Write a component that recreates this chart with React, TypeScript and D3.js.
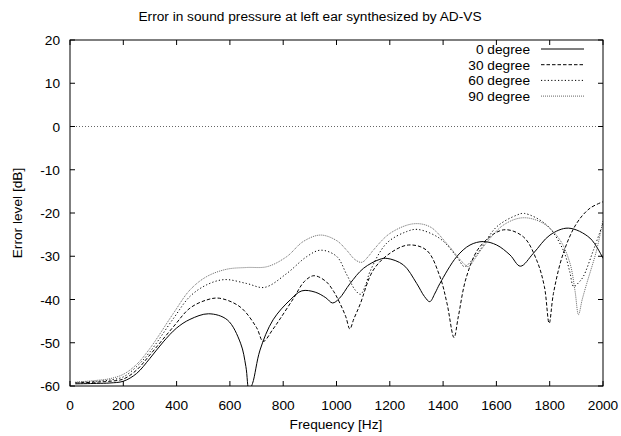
import React from "react";
import * as d3 from "d3";

const xTicks = [0, 200, 400, 600, 800, 1000, 1200, 1400, 1600, 1800, 2000];
const yTicks = [-60, -50, -40, -30, -20, -10, 0, 10, 20];

const deg0Freq = [20, 100, 150, 200, 250, 300, 350, 400, 450, 520, 590, 640, 660, 672, 685, 713, 762, 826, 870, 920, 960, 985, 1010, 1051, 1101, 1163, 1190, 1251, 1301, 1330, 1350, 1370, 1388, 1451, 1501, 1551, 1601, 1651, 1690, 1739, 1801, 1870, 1951, 2000];
const deg0Db = [-59.5, -59.4, -59.3, -58.9, -57.1, -53.6, -49.8, -46.6, -44.6, -43.3, -44.7, -50.1, -55.5, -61, -59.4, -51.7, -44.7, -40.1, -38.0, -38.3, -39.6, -40.8, -39.8, -36.3, -32.8, -30.7, -30.5, -32.0, -36.3, -39.3, -40.5, -38.5, -36.3, -30.1, -27.4, -26.6, -27.4, -29.7, -32.3, -29.3, -25.1, -23.5, -25.8, -30.5];

const deg30Freq = [20, 100, 150, 200, 250, 300, 388, 450, 513, 560, 638, 700, 725, 760, 788, 838, 880, 915, 960, 990, 1013, 1035, 1050, 1065, 1088, 1138, 1201, 1270, 1338, 1388, 1415, 1441, 1457, 1488, 1538, 1626, 1701, 1751, 1780, 1798, 1814, 1851, 1901, 1951, 2000];
const deg30Db = [-59.3, -59.1, -58.9, -58.4, -56.3, -52.8, -46.3, -42.0, -40.1, -39.7, -41.7, -46.5, -49.7, -47.0, -44.5, -39.8, -35.8, -34.5, -35.8, -38.2, -40.9, -44.0, -46.8, -44.5, -41.2, -33.2, -29.3, -27.4, -28.6, -34.7, -41.0, -48.8, -44.0, -34.7, -27.8, -23.9, -25.5, -30.9, -37.0, -45.5, -38.6, -29.3, -22.4, -18.9, -17.4];

const deg60Freq = [20, 100, 150, 200, 250, 300, 388, 450, 513, 580, 663, 730, 813, 888, 940, 1000, 1038, 1070, 1090, 1110, 1126, 1188, 1263, 1305, 1388, 1451, 1480, 1500, 1538, 1601, 1676, 1705, 1789, 1851, 1875, 1890, 1910, 1926, 1964, 2000];
const deg60Db = [-59.2, -58.9, -58.6, -57.9, -55.5, -52.1, -44.4, -39.3, -36.6, -35.4, -36.3, -37.2, -34.0, -30.1, -28.6, -30.0, -34.2, -37.8, -38.8, -36.5, -33.5, -27.0, -24.3, -23.8, -25.9, -30.1, -32.4, -31.5, -28.6, -23.2, -20.5, -20.1, -22.8, -28.6, -33.5, -37.0, -36.0, -34.7, -28.6, -22.4];

const deg90Freq = [20, 100, 150, 200, 250, 300, 388, 450, 513, 588, 663, 740, 813, 875, 940, 1001, 1038, 1070, 1095, 1120, 1138, 1201, 1288, 1351, 1413, 1476, 1495, 1520, 1551, 1626, 1700, 1776, 1838, 1876, 1895, 1908, 1922, 1939, 1976, 2000];
const deg90Db = [-59.1, -58.7, -58.3, -57.3, -55.0, -51.3, -43.2, -37.8, -34.7, -33.0, -32.6, -32.4, -30.1, -26.6, -25.1, -26.4, -28.6, -30.8, -31.4, -30.0, -28.6, -24.7, -22.5, -23.2, -27.0, -31.6, -32.4, -30.5, -27.8, -22.8, -21.1, -22.4, -26.2, -31.6, -38.0, -43.5, -40.0, -36.3, -28.6, -21.6];

const seriesNames = ["0 degree", "30 degree", "60 degree", "90 degree"];
const seriesFreqs = [deg0Freq, deg30Freq, deg60Freq, deg90Freq];
const seriesDbs = [deg0Db, deg30Db, deg60Db, deg90Db];
const seriesColors = ["#000", "#000", "#000", "#666"];
const seriesDash = ["none", "3.5,2", "1.2,2.2", "1,1"];

const W = 621, H = 436;
const L = 70, R = 603, T = 40, B = 386;
const FONT = "Liberation Sans, Arial, Helvetica, sans-serif";
const FS = 13.7;

export default function App() {
  const x = d3.scaleLinear().domain([0, 2000]).range([L, R]);
  const y = d3.scaleLinear().domain([-60, 20]).range([B, T]);
  const line = d3
    .line<[number, number]>()
    .x((d) => x(d[0]))
    .y((d) => y(d[1]))
    .curve(d3.curveCatmullRom.alpha(0.5));
  const tick = 5;
  return (
    <svg width={W} height={H} style={{ position: "absolute", left: 0, top: 0, background: "#fff" }} fontFamily={FONT}>
      <defs>
        <clipPath id="plot">
          <rect x={L} y={T} width={R - L} height={B - T} />
        </clipPath>
      </defs>
      <rect x={0} y={0} width={W} height={H} fill="#fff" />
      <text x={310} y={21} textAnchor="middle" fontSize={FS} fill="#000">
        Error in sound pressure at left ear synthesized by AD-VS
      </text>
      <line x1={L} x2={R} y1={y(0)} y2={y(0)} stroke="#666" strokeDasharray="1,2" strokeWidth={1} />
      {xTicks.map((t) => (
        <g key={"x" + t}>
          <line x1={x(t)} x2={x(t)} y1={B} y2={B - tick} stroke="#000" />
          <line x1={x(t)} x2={x(t)} y1={T} y2={T + tick} stroke="#000" />
          <text x={x(t)} y={410} textAnchor="middle" fontSize={FS} fill="#000">
            {t}
          </text>
        </g>
      ))}
      {yTicks.map((t) => (
        <g key={"y" + t}>
          <line x1={L} x2={L + tick} y1={y(t)} y2={y(t)} stroke="#000" />
          <line x1={R} x2={R - tick} y1={y(t)} y2={y(t)} stroke="#000" />
          <text x={60} y={y(t) + 5} textAnchor="end" fontSize={FS} fill="#000">
            {t}
          </text>
        </g>
      ))}
      <g clipPath="url(#plot)">
        {seriesNames.map((n, i) => {
          const pts: [number, number][] = seriesFreqs[i].map((f, j) => [f, seriesDbs[i][j]]);
          return (
            <path
              key={n}
              d={line(pts) || ""}
              fill="none"
              stroke={seriesColors[i]}
              strokeWidth={1}
              strokeDasharray={seriesDash[i]}
            />
          );
        })}
      </g>
      {seriesNames.map((n, i) => {
        const cy = 49 + i * 15.7;
        return (
          <g key={"lg" + n}>
            <text x={530} y={cy + 5} textAnchor="end" fontSize={FS} fill="#000">
              {n}
            </text>
            <line x1={541} x2={584} y1={cy} y2={cy} stroke={seriesColors[i]} strokeWidth={1} strokeDasharray={seriesDash[i]} />
          </g>
        );
      })}
      <rect x={L} y={T} width={R - L} height={B - T} fill="none" stroke="#000" strokeWidth={1} />
      <text x={336} y={429} textAnchor="middle" fontSize={FS} fill="#000">
        Frequency [Hz]
      </text>
      <text transform={`translate(22,${(T + B) / 2}) rotate(-90)`} textAnchor="middle" fontSize={FS} fill="#000">
        Error level [dB]
      </text>
    </svg>
  );
}
